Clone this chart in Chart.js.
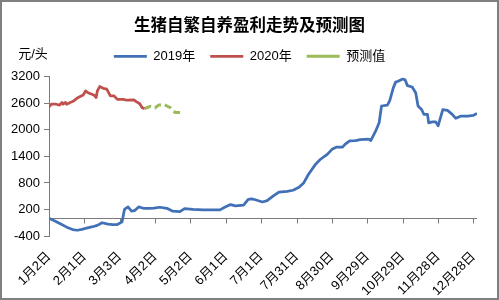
<!DOCTYPE html>
<html>
<head>
<meta charset="utf-8">
<script src="https://cdn.jsdelivr.net/npm/chart.js@4.4.1/dist/chart.umd.min.js"></script>
<style>
    body { margin: 0; background: #fff; }
    #wrap { width: 499px; height: 300px; }
</style>
</head>
<body>
<div id="wrap"><canvas id="chart"></canvas></div>
<script>
// day index counted from Jan 2
const days2019 = [0, 5, 10, 15, 20, 24, 28, 32, 37, 41, 45, 50, 54, 58, 62, 64, 67, 70, 73, 76, 80, 85, 89, 94, 100, 105, 111, 115, 122, 131, 145, 149, 154, 158, 165, 169, 172, 175, 181, 185, 190, 195, 202, 207, 212, 216, 220, 226, 230, 236, 240, 244, 249, 251, 255, 260, 264, 271, 273, 277, 280, 282, 287, 289, 292, 294, 296, 300, 302, 304, 308, 311, 313, 316, 318, 321, 322, 325, 328, 330, 334, 338, 342, 345, 349, 355, 360, 363];
const profit2019 = [0, -60, -130, -200, -255, -270, -250, -220, -190, -160, -100, -130, -145, -140, -80, 200, 257, 160, 180, 257, 227, 225, 228, 250, 227, 160, 150, 220, 200, 190, 190, 250, 310, 280, 300, 430, 440, 420, 370, 400, 500, 590, 610, 635, 700, 800, 990, 1220, 1330, 1445, 1560, 1610, 1610, 1670, 1750, 1755, 1780, 1790, 1760, 1970, 2160, 2540, 2560, 2660, 2950, 3080, 3100, 3150, 3130, 3000, 2970, 2840, 2540, 2460, 2350, 2350, 2160, 2180, 2180, 2090, 2460, 2440, 2350, 2260, 2310, 2310, 2330, 2370];

const days2020 = [0, 2, 6, 9, 11, 12, 14, 15, 18, 20, 24, 26, 29, 31, 33, 38, 40, 41, 43, 46, 49, 52, 55, 58, 63, 66, 72, 74, 77, 79, 81];
const profit2020 = [2520, 2580, 2580, 2560, 2620, 2580, 2620, 2580, 2620, 2640, 2720, 2750, 2790, 2880, 2840, 2790, 2730, 2880, 2980, 2940, 2920, 2770, 2770, 2690, 2690, 2670, 2680, 2640, 2590, 2500, 2480];

const daysForecast = [81, 83, 86, 90, 93, 97, 100, 103, 107, 110, 113];
const profitForecast = [2480, 2500, 2530, 2500, 2560, 2580, 2540, 2500, 2390, 2390, 2390];

const tickLabels = ["1月2日", "2月1日", "3月3日", "4月2日", "5月2日", "6月1日", "7月1日", "7月31日", "8月30日", "9月29日", "10月29日", "11月28日", "12月28日"];

const AXIS = "#7a7a7a";
const FONT = "'Liberation Sans', 'Noto Sans CJK SC', sans-serif";

function points(xs, ys) {
    return xs.map((x, i) => ({ x, y: ys[i] }));
}

// empty axis used only as spacing
function spacer(position, size) {
    const horiz = position === "top";
    return {
        type: "linear",
        position,
        display: true,
        grid: { display: false },
        border: { display: false },
        ticks: { display: false },
        afterFit: s => { if (horiz) s.height = size; else s.width = size; }
    };
}

const extras = {
    id: "extras",
    beforeDatasetsDraw(chart) {
        // horizontal axis line at zero, with tick marks from the x scale
        const { ctx, chartArea, scales } = chart;
        const y0 = Math.round(scales.y.getPixelForValue(0)) + 0.5;
        ctx.save();
        ctx.strokeStyle = AXIS;
        ctx.lineWidth = 1;
        ctx.beginPath();
        ctx.moveTo(chartArea.left, y0);
        ctx.lineTo(chartArea.right, y0);
        scales.x.ticks.forEach(t => {
            const px = Math.round(scales.x.getPixelForValue(t.value)) + 0.5;
            ctx.moveTo(px, y0);
            ctx.lineTo(px, y0 + 5);
        });
        ctx.stroke();
        ctx.restore();
    },
    afterDraw(chart) {
        const { ctx, chartArea } = chart;
        ctx.save();
        ctx.fillStyle = "#000";
        ctx.font = "13px " + FONT;
        ctx.textAlign = "center";
        ctx.textBaseline = "middle";
        ctx.fillText("元/头", chartArea.left - 16, chartArea.top - 22);
        ctx.strokeStyle = "#808080";
        ctx.lineWidth = 2;
        ctx.strokeRect(1, 1, chart.width - 2, chart.height - 2);
        ctx.restore();
    }
};

new Chart(document.getElementById("chart"), {
    type: "line",
    data: {
        datasets: [
            {
                label: "2019年",
                data: points(days2019, profit2019),
                borderColor: "#4170b6",
                backgroundColor: "#4170b6",
                borderWidth: 2.75,
                pointRadius: 0,
                tension: 0,
                borderJoinStyle: "round"
            },
            {
                label: "2020年",
                data: points(days2020, profit2020),
                borderColor: "#c0504d",
                backgroundColor: "#c0504d",
                borderWidth: 2.75,
                pointRadius: 0,
                tension: 0,
                borderJoinStyle: "round"
            },
            {
                label: "预测值",
                data: points(daysForecast, profitForecast),
                borderColor: "#9bbb59",
                backgroundColor: "#9bbb59",
                borderWidth: 3,
                borderDash: [7, 4],
                pointRadius: 0,
                tension: 0
            }
        ]
    },
    options: {
        responsive: true,
        maintainAspectRatio: false,
        animation: false,
        layout: { padding: 0 },
        plugins: {
            title: {
                display: true,
                text: "生猪自繁自养盈利走势及预测图",
                color: "#000",
                font: { family: "'Noto Sans CJK SC'", size: 16.5, weight: "bold" },
                padding: { top: 15, bottom: 0 }
            },
            legend: {
                labels: {
                    usePointStyle: true,
                    pointStyle: "line",
                    pointStyleWidth: 33,
                    color: "#000",
                    padding: 15,
                    font: { family: FONT, size: 13 }
                }
            },
            tooltip: { enabled: false }
        },
        scales: {
            x: {
                type: "linear",
                min: 0,
                max: 363,
                position: "bottom",
                grid: { display: false },
                border: { display: false },
                afterFit: s => { s.height = 64; },
                ticks: {
                    stepSize: 30,
                    includeBounds: false,
                    autoSkip: false,
                    minRotation: 45,
                    maxRotation: 45,
                    padding: 5,
                    color: "#000",
                    font: { family: FONT, size: 13 },
                    callback: v => tickLabels[v / 30] ?? ""
                }
            },
            xTop: Object.assign(spacer("top", 4), { axis: "x" }),
            y: {
                min: -400,
                max: 3200,
                afterFit: s => { s.width = 49; },
                grid: { drawOnChartArea: false, tickLength: 5, color: AXIS },
                border: { color: AXIS },
                ticks: {
                    stepSize: 600,
                    padding: 4,
                    color: "#000",
                    font: { family: FONT, size: 13 },
                    callback: v => String(v)
                }
            },
            yRight: Object.assign(spacer("right", 22), { axis: "y" })
        }
    },
    plugins: [extras]
});
</script>
</body>
</html>
